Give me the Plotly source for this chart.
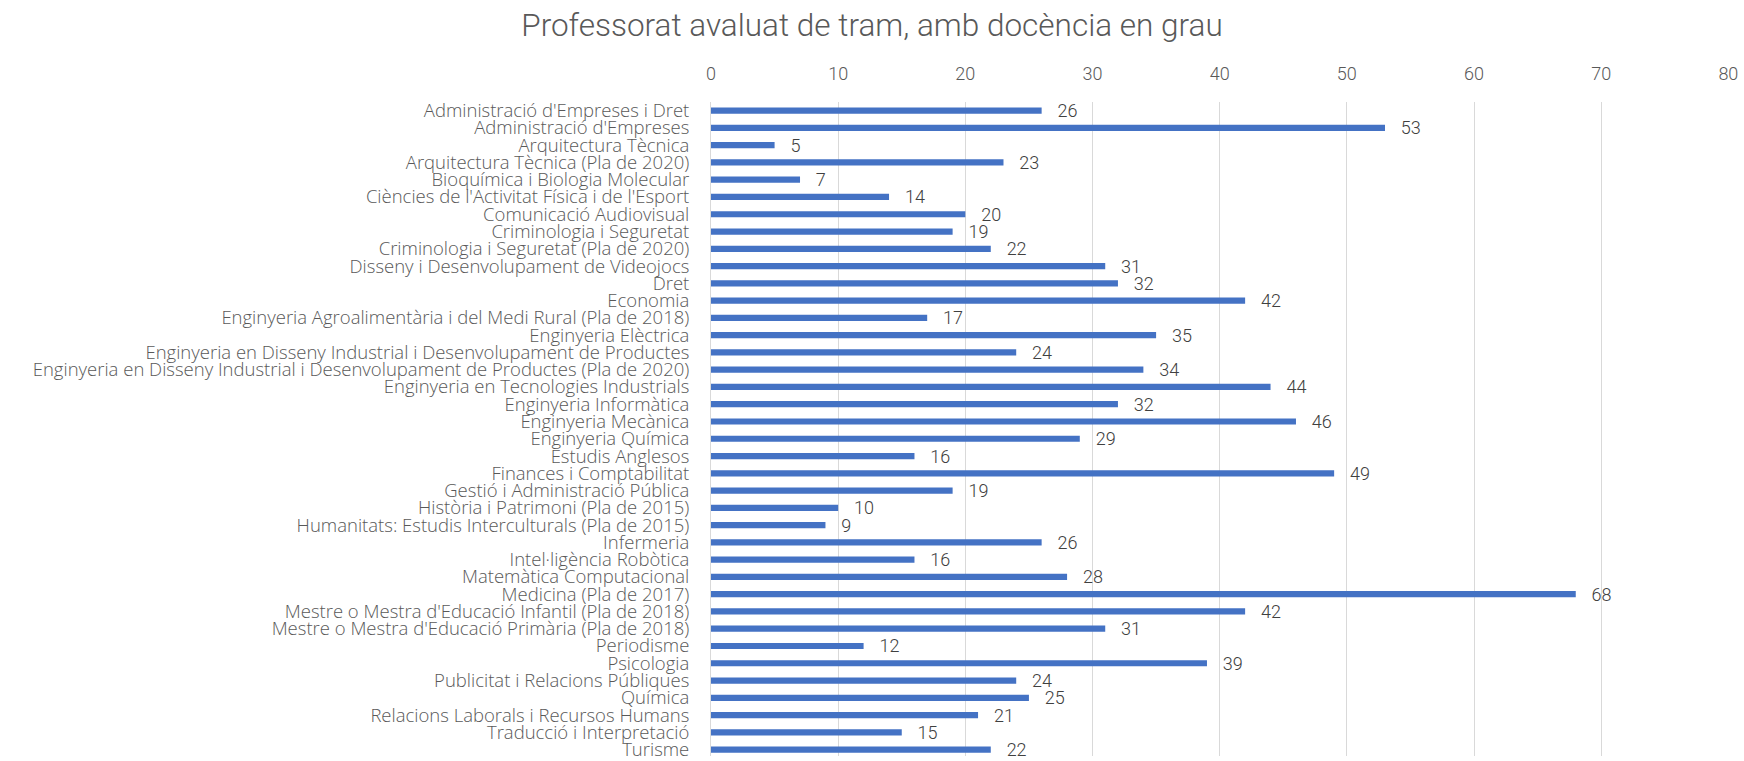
import plotly.graph_objects as go

categories = [
    "Administració d'Empreses i Dret",
    "Administració d'Empreses",
    "Arquitectura Tècnica",
    "Arquitectura Tècnica (Pla de 2020)",
    "Bioquímica i Biologia Molecular",
    "Ciències de l'Activitat Física i de l'Esport",
    "Comunicació Audiovisual",
    "Criminologia i Seguretat",
    "Criminologia i Seguretat (Pla de 2020)",
    "Disseny i Desenvolupament de Videojocs",
    "Dret",
    "Economia",
    "Enginyeria Agroalimentària i del Medi Rural (Pla de 2018)",
    "Enginyeria Elèctrica",
    "Enginyeria en Disseny Industrial i Desenvolupament de Productes",
    "Enginyeria en Disseny Industrial i Desenvolupament de Productes (Pla de 2020)",
    "Enginyeria en Tecnologies Industrials",
    "Enginyeria Informàtica",
    "Enginyeria Mecànica",
    "Enginyeria Química",
    "Estudis Anglesos",
    "Finances i Comptabilitat",
    "Gestió i Administració Pública",
    "Història i Patrimoni (Pla de 2015)",
    "Humanitats: Estudis Interculturals (Pla de 2015)",
    "Infermeria",
    "Intel·ligència Robòtica",
    "Matemàtica Computacional",
    "Medicina (Pla de 2017)",
    "Mestre o Mestra d'Educació Infantil (Pla de 2018)",
    "Mestre o Mestra d'Educació Primària (Pla de 2018)",
    "Periodisme",
    "Psicologia",
    "Publicitat i Relacions Públiques",
    "Química",
    "Relacions Laborals i Recursos Humans",
    "Traducció i Interpretació",
    "Turisme",
]

professors = [26, 53, 5, 23, 7, 14, 20, 19, 22, 31, 32, 42, 17, 35, 24, 34, 44,
              32, 46, 29, 16, 49, 19, 10, 9, 26, 16, 28, 68, 42, 31, 12, 39, 24,
              25, 21, 15, 22]

x_ticks = [0, 10, 20, 30, 40, 50, 60, 70, 80]

label_font = "Open Sans, Roboto, sans-serif"
font_family = "Roboto, sans-serif"

fig = go.Figure(
    go.Bar(
        x=professors,
        y=categories,
        orientation="h",
        width=0.36,
        marker=dict(color="#4472C4", line=dict(width=0)),
        text=professors,
        texttemplate="\u2002\u2009%{text}",
        textposition="outside",
        constraintext="none",
        textfont=dict(size=18, color="#404040", family=font_family, weight=300),
        cliponaxis=False,
    )
)

fig.update_layout(
    width=1744,
    height=761,
    paper_bgcolor="white",
    plot_bgcolor="white",
    showlegend=False,
    margin=dict(l=711, r=15, t=102, b=0),
    title=dict(
        text="Professorat avaluat de tram, amb docència en grau",
        x=0.5,
        xref="container",
        xanchor="center",
        y=1 - 25 / 761,
        yref="container",
        yanchor="middle",
        font=dict(size=31.5, color="#595959", family=font_family, weight=300),
    ),
    xaxis=dict(
        side="top",
        range=[0, 80.05],
        tickvals=x_ticks,
        showgrid=True,
        gridcolor="#D9D9D9",
        gridwidth=1,
        zeroline=False,
        showline=False,
        ticks="",
        ticklabelstandoff=17,
        tickfont=dict(size=18, color="#595959", family=font_family, weight=300),
    ),
    yaxis=dict(
        type="category",
        categoryorder="array",
        categoryarray=categories,
        tickmode="array",
        tickvals=categories,
        range=[37.37, -0.5],
        showgrid=False,
        showline=True,
        linecolor="#D9D9D9",
        ticks="",
        ticklabelstandoff=17,
        tickfont=dict(size=18.5, color="#595959", family=label_font, weight=300),
    ),
)

# drop the default page margin so the figure fills the window exactly
fig.write_html(
    "out.html",
    config={"displayModeBar": False},
    post_script="document.body.style.margin = '0';",
)
